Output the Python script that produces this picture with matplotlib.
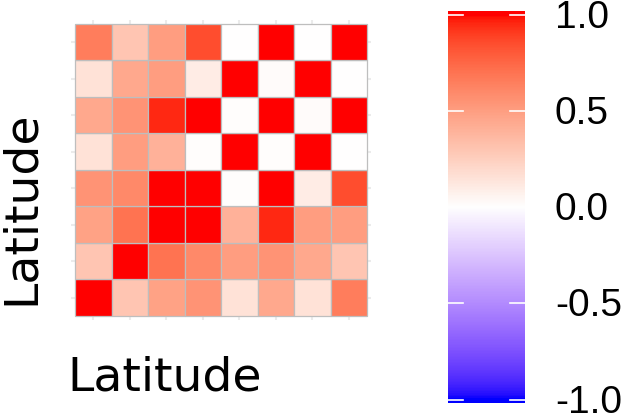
import numpy as np
import matplotlib
matplotlib.use("Agg")
import matplotlib.pyplot as plt
from matplotlib.colors import ListedColormap, Normalize

# ---- data (correlation matrix, row 0 = bottom row) ----
n_vars = 8
row0 = [1.00, 0.30, 0.48, 0.55, 0.15, 0.45, 0.15, 0.65]
row1 = [0.30, 1.00, 0.70, 0.60, 0.50, 0.55, 0.45, 0.30]
row2 = [0.48, 0.70, 1.00, 1.00, 0.40, 0.95, 0.50, 0.50]
row3 = [0.55, 0.60, 1.00, 1.00, 0.01, 1.00, 0.10, 0.85]
row4 = [0.15, 0.50, 0.40, 0.01, 1.00, 0.01, 1.00, 0.00]
row5 = [0.45, 0.55, 0.95, 1.00, 0.01, 1.00, 0.02, 1.00]
row6 = [0.15, 0.45, 0.50, 0.10, 1.00, 0.02, 1.00, 0.00]
row7 = [0.65, 0.30, 0.50, 0.85, 0.00, 1.00, 0.00, 1.00]
rows = [row0, row1, row2, row3, row4, row5, row6, row7]
cbar_ticks = [-1.0, -0.5, 0.0, 0.5, 1.0]
cbar_labels = ["-1.0", "-0.5", "0.0", "0.5", "1.0"]
axis_title = "Latitude"

# ---- Lab-interpolated diverging palette (blue - white - red) ----
def srgb_to_lab(rgb):
    rgb = np.asarray(rgb, float)
    lin = np.where(rgb <= 0.04045, rgb / 12.92, ((rgb + 0.055) / 1.055) ** 2.4)
    M = np.array([[0.4124, 0.3576, 0.1805],
                  [0.2126, 0.7152, 0.0722],
                  [0.0193, 0.1192, 0.9505]])
    xyz = M @ lin
    wp = np.array([0.95047, 1.0, 1.08883])
    t = xyz / wp
    f = np.where(t > (6/29) ** 3, np.cbrt(t), t / (3 * (6/29) ** 2) + 4/29)
    return np.array([116 * f[1] - 16, 500 * (f[0] - f[1]), 200 * (f[1] - f[2])])

def lab_to_srgb(lab):
    L, a, b = lab
    fy_ = (L + 16) / 116
    fx_ = fy_ + a / 500
    fz_ = fy_ - b / 200
    def finv(f):
        return np.where(f > 6/29, f ** 3, 3 * (6/29) ** 2 * (f - 4/29))
    wp = np.array([0.95047, 1.0, 1.08883])
    xyz = np.array([finv(fx_), finv(fy_), finv(fz_)]) * wp
    Minv = np.array([[3.2406, -1.5372, -0.4986],
                     [-0.9689, 1.8758, 0.0415],
                     [0.0557, -0.2040, 1.0570]])
    lin = np.clip(Minv @ xyz, 0, 1)
    rgb = np.where(lin <= 0.0031308, 12.92 * lin, 1.055 * lin ** (1/2.4) - 0.055)
    return np.clip(rgb, 0, 1)

lab_blue = srgb_to_lab([0, 0, 1])
lab_white = srgb_to_lab([1, 1, 1])
lab_red = srgb_to_lab([1, 0, 0])
cols = []
for v in np.linspace(-1, 1, 256):
    if v < 0:
        lab = lab_white + (lab_blue - lab_white) * (-v)
    else:
        lab = lab_white + (lab_red - lab_white) * v
    cols.append(lab_to_srgb(lab))
cmap = ListedColormap(cols)
norm = Normalize(-1, 1)

# ---- figure ----
W, H = 624, 415
fig = plt.figure(figsize=(W / 100, H / 100), dpi=100)

def fx(px):
    return px / W

def fy(py):
    return 1 - py / H

# heatmap panel (tiles span 75..367 x 24..316 px, panel expanded a bit)
lo, hi = -0.6, n_vars - 1 + 0.6
cell = (367 - 75) / n_vars
pad = (hi - (n_vars - 0.5)) * cell
left_px, right_px = 75 - pad, 367 + pad
top_px, bot_px = 24 - pad, 316 + pad
ax = fig.add_axes([fx(left_px), fy(bot_px), fx(right_px) - fx(left_px), fy(top_px) - fy(bot_px)])
ax.set_xlim(lo, hi)
ax.set_ylim(lo, hi)
for k in range(n_vars):
    ax.axvline(k, color="#EBEBEB", lw=1.5, zorder=0)
    ax.axhline(k, color="#EBEBEB", lw=1.5, zorder=0)
data = np.array(rows)
for i in range(n_vars):
    for j in range(n_vars):
        ax.add_patch(plt.Rectangle((j - 0.5, i - 0.5), 1, 1,
                                   facecolor=cmap(norm(data[i, j])),
                                   edgecolor="#BEBEBE", lw=0.9, zorder=2))
ax.set_xticks([])
ax.set_yticks([])
for s in ax.spines.values():
    s.set_visible(False)

fig.text(fx(165), fy(378), axis_title, fontsize=34, family="DejaVu Sans",
         ha="center", va="center")
fig.text(fx(21), fy(208), axis_title, fontsize=34, family="DejaVu Sans",
         ha="center", va="center", rotation=90)

# colorbar: value 1 at y=14.7 px, -1 at y=399.7 px; bar drawn 11..403 px
y_top_val, y_bot_val = 14.7, 399.7
px_per_unit = (y_bot_val - y_top_val) / 2
bar_top, bar_bot = 11, 403
vmax_bar = 1 + (y_top_val - bar_top) / px_per_unit
vmin_bar = -1 - (bar_bot - y_bot_val) / px_per_unit
cax = fig.add_axes([fx(448), fy(bar_bot), fx(525) - fx(448), fy(bar_top) - fy(bar_bot)])
grad = np.linspace(vmin_bar, vmax_bar, 400).reshape(-1, 1)
cax.imshow(np.clip(grad, -1, 1), cmap=cmap, norm=norm, aspect="auto", origin="lower",
           extent=[0, 1, vmin_bar, vmax_bar])
cax.set_xlim(0, 1)
cax.set_ylim(vmin_bar, vmax_bar)
tick_len = 15 / 77
for t in cbar_ticks:
    cax.plot([0, tick_len], [t, t], color="white", lw=1.2)
    cax.plot([1 - tick_len, 1], [t, t], color="white", lw=1.2)
cax.set_xticks([])
cax.set_yticks([])
for s in cax.spines.values():
    s.set_visible(False)
for t, lab in zip(cbar_ticks, cbar_labels):
    yp = y_bot_val - (t + 1) * px_per_unit + 3
    fig.text(fx(555), fy(yp), lab, fontsize=28, family="Liberation Sans",
             ha="left", va="center")

fig.savefig("out.png", dpi=100)
